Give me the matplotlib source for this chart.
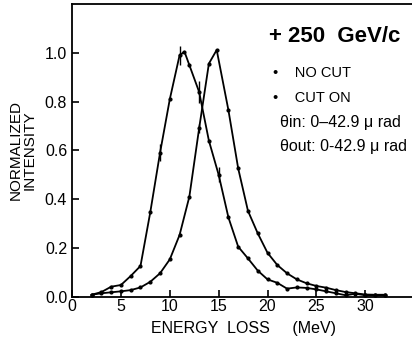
import numpy as np
import matplotlib.pyplot as plt

# Energy loss (MeV)
e_nocut = [2, 3, 4, 5, 6, 7, 8, 9, 10, 11, 11.5, 12, 13, 14, 15, 16, 17, 18, 19, 20,
           21, 22, 23, 24, 25, 26, 27, 28, 29, 30, 31, 32]
i_nocut = [0.008, 0.019, 0.041, 0.048, 0.085, 0.126, 0.346, 0.59, 0.81, 0.99, 1.005, 0.95, 0.84,
           0.64, 0.50, 0.325, 0.205, 0.157, 0.107, 0.071, 0.057, 0.033, 0.038, 0.036,
           0.03, 0.022, 0.014, 0.006, 0.012, 0.006, 0.005, 0.005]

e_cuton = [2, 3, 4, 5, 6, 7, 8, 9, 10, 11, 12, 13, 14, 14.8, 16, 17, 18, 19, 20,
           21, 22, 23, 24, 25, 26, 27, 28, 29, 30, 31, 32]
i_cuton = [0.008, 0.014, 0.018, 0.022, 0.027, 0.038, 0.061, 0.096, 0.153, 0.253, 0.41,
           0.69, 0.956, 1.012, 0.765, 0.526, 0.352, 0.26, 0.18, 0.13, 0.096, 0.071,
           0.055, 0.044, 0.037, 0.027, 0.019, 0.014, 0.009, 0.008, 0.008]

# error bars on a few points
err_x = [9, 11, 13, 15, 13]
err_y = [0.59, 0.99, 0.84, 0.50, 0.69]
err_e = [0.035, 0.04, 0.045, 0.03, 0.02]

plt.rcParams['font.family'] = ['Liberation Sans', 'DejaVu Sans']
fig = plt.figure(figsize=(4.12, 3.43), dpi=100)
ax = fig.add_axes([0.175, 0.135, 0.83, 0.853])

ax.plot(e_nocut, i_nocut, color='black', lw=1.3, marker='o', ms=2, label='NO CUT')
ax.plot(e_cuton, i_cuton, color='black', lw=1.3, marker='o', ms=2, label='CUT ON')
ax.errorbar(err_x, err_y, yerr=err_e, fmt='none', ecolor='black', elinewidth=1)

ax.set_xlim(0, 35)
ax.set_ylim(0, 1.2)
ax.set_xticks([0, 5, 10, 15, 20, 25, 30])
ax.set_yticks([0.0, 0.2, 0.4, 0.6, 0.8, 1.0])
ax.set_yticklabels(['0.0', '0.2', '0.4', '0.6', '0.8', '1.0'])
ax.tick_params(direction='in', length=5, width=1.2, labelsize=11.5)
ax.tick_params(axis='x', pad=2)
for s in ax.spines.values():
    s.set_linewidth(1.3)
ax.spines['right'].set_visible(False)

ax.set_xlabel('ENERGY  LOSS     (MeV)', fontsize=11.5, labelpad=5)
ax.set_ylabel('NORMALIZED\nINTENSITY', fontsize=11, labelpad=6, linespacing=0.95)

W, H = 412.0, 343.0
fig.text(335 / W, 1 - 37 / H, '+ 250  GeV/c', fontsize=16, fontweight='bold',
         ha='center', va='center')
fig.text(273 / W, 1 - 73 / H, '•    NO CUT', fontsize=10.5, va='center')
fig.text(273 / W, 1 - 98 / H, '•    CUT ON', fontsize=10.5, va='center')
fig.text(280 / W, 1 - 122 / H, 'θin: 0–42.9 μ rad', fontsize=11.5, va='center')
fig.text(280 / W, 1 - 147 / H, 'θout: 0-42.9 μ rad', fontsize=11.5, va='center')

fig.savefig('out.png', dpi=100)
